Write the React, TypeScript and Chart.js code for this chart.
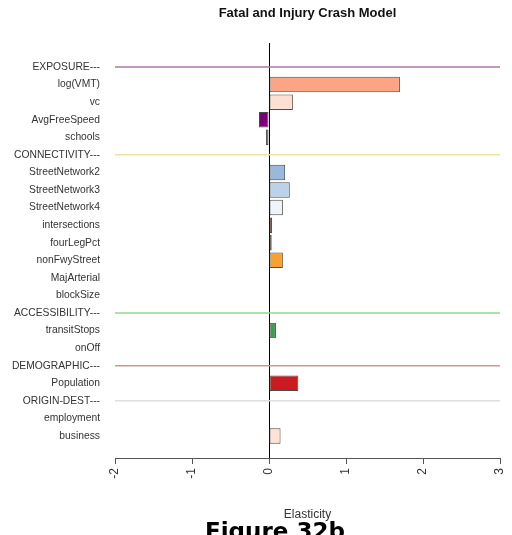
import React, { useEffect, useRef } from "react";
import { Chart, registerables } from "chart.js";

Chart.register(...registerables);

const rowLabels: string[] = [
  "EXPOSURE---", "log(VMT)", "vc", "AvgFreeSpeed", "schools",
  "CONNECTIVITY---", "StreetNetwork2", "StreetNetwork3", "StreetNetwork4",
  "intersections", "fourLegPct", "nonFwyStreet", "MajArterial", "blockSize",
  "ACCESSIBILITY---", "transitStops", "onOff",
  "DEMOGRAPHIC---", "Population",
  "ORIGIN-DEST---", "employment", "business",
];

// null = group header row
const elasticity: (number | null)[] = [
  null, 1.70, 0.31, -0.13, -0.04,
  null, 0.21, 0.27, 0.18,
  0.04, 0.035, 0.18, 0, 0,
  null, 0.09, 0,
  null, 0.38,
  null, 0, 0.15,
];

const barColors: string[] = [
  "", "#FCA486", "#FEE0D2", "#7A0177", "#5E4E73",
  "", "#9AB8DA", "#BCD2EA", "#EEF4FA",
  "#6B2A1E", "#A0592A", "#F9A030", "#FFFFFF", "#FFFFFF",
  "", "#3E9B55", "#FFFFFF",
  "", "#CC1A22",
  "", "#FFFFFF", "#FEE2D6",
];

const headerLineColors: string[] = ["#A878A8", "#EEE3A0", "#8FDB8F", "#C49A9A", "#DDDDDD"];

const xTicks: number[] = [-2, -1, 0, 1, 2, 3];

export default function App() {
  const ref = useRef<HTMLCanvasElement | null>(null);

  useEffect(() => {
    if (!ref.current) return;
    const rows = elasticity
      .map((v, i) => ({ v, i }))
      .filter((r) => r.v !== null);
    const headerIdx = elasticity
      .map((v, i) => (v === null ? i : -1))
      .filter((i) => i >= 0);

    const headerLines = {
      id: "headerLines",
      beforeDatasetsDraw(chart: any) {
        const { ctx, scales } = chart;
        const xs = scales.x;
        const ys = scales.y;
        ctx.save();
        headerIdx.forEach((idx, k) => {
          const y = ys.getPixelForValue(idx);
          ctx.strokeStyle = headerLineColors[k % headerLineColors.length];
          ctx.lineWidth = 1.5;
          ctx.beginPath();
          ctx.moveTo(xs.getPixelForValue(xTicks[0]), y);
          ctx.lineTo(xs.getPixelForValue(xTicks[xTicks.length - 1]), y);
          ctx.stroke();
        });
        ctx.restore();
      },
    };

    const chart = new Chart(ref.current, {
      type: "bar",
      data: {
        datasets: [
          {
            data: rows.map((r) => ({ x: r.v as number, y: r.i })),
            backgroundColor: rows.map((r) => barColors[r.i]),
            borderColor: "#4a4a4a",
            borderWidth: 1,
            borderSkipped: false,
            barPercentage: 0.88,
            categoryPercentage: 1,
          } as any,
        ],
      },
      options: {
        indexAxis: "y",
        responsive: false,
        animation: false,
        devicePixelRatio: 1,
        layout: { padding: { left: 0, right: 12, top: 0, bottom: 0 } },
        plugins: {
          legend: { display: false },
          tooltip: { enabled: false },
          title: {
            display: true,
            text: "Fatal and Injury Crash Model",
            fullSize: false,
            color: "#111",
            font: { family: "Liberation Sans, Arial, sans-serif", size: 13, weight: "bold" },
            padding: { top: 6, bottom: 21.4 },
          },
        },
        scales: {
          x: {
            type: "linear",
            min: xTicks[0],
            max: xTicks[xTicks.length - 1],
            offset: false,
            afterFit: (s: any) => {
              s.height = 77;
              s.paddingRight = 0;
              s.paddingLeft = 0;
            },
            afterBuildTicks: (s: any) => {
              s.ticks = xTicks.map((v) => ({ value: v }));
            },
            ticks: {
              maxRotation: 90,
              minRotation: 90,
              padding: 4,
              color: "#333",
              font: { family: "Liberation Sans, Arial, sans-serif", size: 12 },
              callback: (v: any) => String(v),
            },
            grid: {
              color: (c: any) => (c.tick && c.tick.value === 0 ? "#000" : "rgba(0,0,0,0)"),
              tickColor: "#555",
              tickLength: 6,
              lineWidth: 1,
            },
            border: { display: true, color: "#555", width: 1 },
            title: {
              display: true,
              text: "Elasticity",
              color: "#333",
              font: { family: "Liberation Sans, Arial, sans-serif", size: 12 },
              padding: { top: 0, bottom: 13 },
            },
          },
          y: {
            type: "linear",
            reverse: true,
            offset: false,
            min: -1.366,
            max: rowLabels.length - 1 + 1.252,
            afterFit: (s: any) => {
              s.width = 115;
            },
            afterBuildTicks: (s: any) => {
              s.ticks = rowLabels.map((_, i) => ({ value: i }));
            },
            ticks: {
              autoSkip: false,
              padding: 15,
              color: "#333",
              font: { family: "Liberation Sans, Arial, sans-serif", size: 10.3 },
              callback: (v: any) => rowLabels[Math.round(Number(v))] ?? "",
            },
            grid: { display: false, drawTicks: false, offset: false },
            border: { display: false },
          },
        },
      },
      plugins: [headerLines],
    } as any);
    return () => chart.destroy();
  }, []);

  return (
    <div style={{ position: "fixed", left: 0, top: 0, width: 512, height: 535, overflow: "hidden", background: "#fff" }}>
      <canvas ref={ref} width={512} height={535} style={{ display: "block", width: 512, height: 535 }} />
      <div
        style={{
          position: "absolute",
          left: 205,
          top: 518,
          font: "bold 23px 'DejaVu Sans', Verdana, sans-serif",
          lineHeight: "27px",
          color: "#000",
          whiteSpace: "nowrap",
        }}
      >
        Figure 32b
      </div>
    </div>
  );
}
